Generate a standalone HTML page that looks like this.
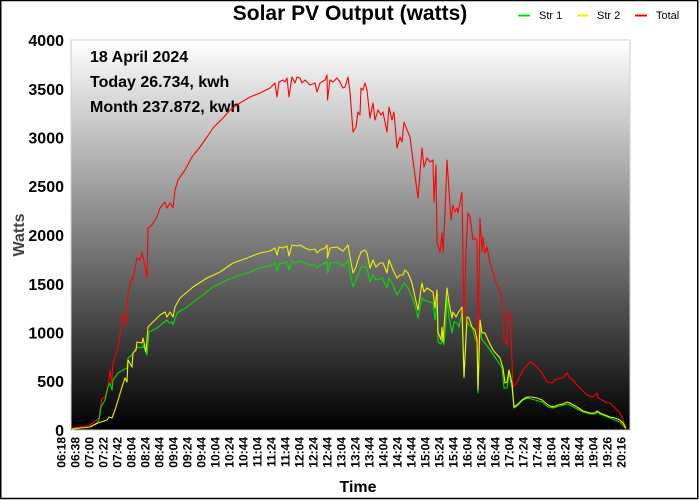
<!DOCTYPE html>
<html><head><meta charset="utf-8"><style>
html,body{margin:0;padding:0;background:#fff;}
svg{display:block;font-family:"Liberation Sans",Arial,sans-serif;}
</style></head><body>
<svg width="700" height="500" viewBox="0 0 700 500" xmlns="http://www.w3.org/2000/svg">
<defs>
<linearGradient id="bg" x1="0" y1="0" x2="0" y2="1">
<stop offset="0" stop-color="#ffffff"/>
<stop offset="1" stop-color="#000000"/>
</linearGradient>
</defs>
<rect x="0" y="0" width="700" height="500" fill="#fff"/>
<rect x="0.75" y="0.5" width="697" height="498" fill="none" stroke="#000" stroke-width="1.5"/>
<rect x="71" y="40" width="559" height="390" fill="url(#bg)" stroke="#d0d0d0" stroke-width="1"/>

<text x="350" y="20" font-size="21" font-weight="bold" text-anchor="middle">Solar PV Output (watts)</text>

<line x1="518" y1="15.5" x2="530" y2="15.5" stroke="#00e000" stroke-width="2"/>
<text x="539" y="19" font-size="11">Str 1</text>
<line x1="577" y1="15.5" x2="588" y2="15.5" stroke="#f0f000" stroke-width="2"/>
<text x="597" y="19" font-size="11">Str 2</text>
<line x1="635" y1="15.5" x2="647" y2="15.5" stroke="#ff0000" stroke-width="2"/>
<text x="656" y="19" font-size="11">Total</text>

<g font-size="16" font-weight="bold" text-anchor="end">
<text x="64" y="46">4000</text>
<text x="64" y="95">3500</text>
<text x="64" y="143.5">3000</text>
<text x="64" y="192">2500</text>
<text x="64" y="241">2000</text>
<text x="64" y="290">1500</text>
<text x="64" y="338.5">1000</text>
<text x="64" y="387">500</text>
<text x="64" y="436">0</text>
</g>

<text transform="translate(24,235) rotate(-90)" font-size="16" font-weight="bold" fill="#444" text-anchor="middle">Watts</text>
<text x="358" y="492" font-size="16" font-weight="bold" text-anchor="middle">Time</text>

<g font-size="16" font-weight="bold">
<text x="90" y="62">18 April 2024</text>
<text x="90" y="87">Today 26.734, kwh</text>
<text x="90" y="112">Month 237.872, kwh</text>
</g>

<g font-size="12" font-weight="bold" text-anchor="end">
<text transform="translate(65.5,437) rotate(-90)">06:18</text>
<text transform="translate(79.5,437) rotate(-90)">06:38</text>
<text transform="translate(93.5,437) rotate(-90)">07:00</text>
<text transform="translate(107.5,437) rotate(-90)">07:22</text>
<text transform="translate(121.5,437) rotate(-90)">07:42</text>
<text transform="translate(135.5,437) rotate(-90)">08:04</text>
<text transform="translate(149.5,437) rotate(-90)">08:24</text>
<text transform="translate(163.5,437) rotate(-90)">08:44</text>
<text transform="translate(177.5,437) rotate(-90)">09:04</text>
<text transform="translate(191.5,437) rotate(-90)">09:24</text>
<text transform="translate(205.5,437) rotate(-90)">09:44</text>
<text transform="translate(219.5,437) rotate(-90)">10:04</text>
<text transform="translate(233.5,437) rotate(-90)">10:24</text>
<text transform="translate(247.5,437) rotate(-90)">10:44</text>
<text transform="translate(261.5,437) rotate(-90)">11:04</text>
<text transform="translate(275.5,437) rotate(-90)">11:24</text>
<text transform="translate(289.5,437) rotate(-90)">11:44</text>
<text transform="translate(303.5,437) rotate(-90)">12:04</text>
<text transform="translate(317.5,437) rotate(-90)">12:24</text>
<text transform="translate(331.5,437) rotate(-90)">12:44</text>
<text transform="translate(345.5,437) rotate(-90)">13:04</text>
<text transform="translate(359.5,437) rotate(-90)">13:24</text>
<text transform="translate(373.5,437) rotate(-90)">13:44</text>
<text transform="translate(387.5,437) rotate(-90)">14:04</text>
<text transform="translate(401.5,437) rotate(-90)">14:24</text>
<text transform="translate(415.5,437) rotate(-90)">14:44</text>
<text transform="translate(429.5,437) rotate(-90)">15:04</text>
<text transform="translate(443.5,437) rotate(-90)">15:24</text>
<text transform="translate(457.5,437) rotate(-90)">15:44</text>
<text transform="translate(471.5,437) rotate(-90)">16:04</text>
<text transform="translate(485.5,437) rotate(-90)">16:24</text>
<text transform="translate(499.5,437) rotate(-90)">16:44</text>
<text transform="translate(513.5,437) rotate(-90)">17:04</text>
<text transform="translate(527.5,437) rotate(-90)">17:24</text>
<text transform="translate(541.5,437) rotate(-90)">17:44</text>
<text transform="translate(555.5,437) rotate(-90)">18:04</text>
<text transform="translate(569.5,437) rotate(-90)">18:24</text>
<text transform="translate(583.5,437) rotate(-90)">18:44</text>
<text transform="translate(597.5,437) rotate(-90)">19:04</text>
<text transform="translate(611.5,437) rotate(-90)">19:26</text>
<text transform="translate(625.5,437) rotate(-90)">20:16</text>
</g>

<g fill="none" stroke-width="1.1" stroke-linejoin="round">
<polyline stroke="#ff0000" points="71.7,428 80,427 90,425 96.7,420 99,418 101.7,399 105,397 108,387 110,370 111.7,383 113,363 118,347 123,313 126,325 128,293 132,277 133,280 137,258 140,260 142,252 145,267 147,278 148,228 152,225 157,217 160,208 165,202 167,208 170,203 173,208 175,190 178,180 185,170 192,157 200,147 207,137 213,128 223,118 230,110 240,103 250,97 260,93 270,88 275,83 277,97 279,82 283,80 285,82 287,78 289,97 292,77 295,83 297,77 300,78 302,83 305,80 310,85 315,83 317,92 320,83 325,80 327,75 327.5,100 330,80 333,82 337,78 340,82 343,88 345,87 348,77 350,92 353,132 356,127 358,112 360,115 361,88 363,90 365,83 367,90 370,118 373,103 375,120 378,110 381,115 383,112 387,132 389,107 392,120 394,112 397,148 400,137 402,142 404,122 407,130 410,137 414,168 418,198 422,148 424,167 427,158 430,162 433,160 434,202 436,165 437,242 440,252 442,233 443,253 445,212 447,160 449,190 451,220 453,205 455,212 457,208 458,213 462,192 464,323 466,250 468,213 470,217 473,240 475,238 477,240 478,353 480,218 482,252 483,237 485,253 487,247 490,263 497,285 500,292 502,300 504,340 507,345 508,313 510,312 513,387 515,385 518,380 523,370 530,362 535,365 542,373 547,382 552,383 555,380 560,378 563,378 567,373 570,378 573,380 577,385 582,390 587,395 593,397 597,393 598,398 602,400 607,403 610,403 615,408 620,413 623,420 626,428"/>
<polyline stroke="#00e000" points="72,429 90,427 97,423 99,420 101,407 105,400 108,387 110,383 112,390 113,380 118,373 123,370 127,368 128,358 132,355 134,352 137,347 142,348 143,345 147,355 149,332 157,328 163,323 167,320 169,323 172,322 173,325 177,313 187,307 200,297 213,287 227,280 240,275 250,272 260,268 270,266 275,263 277,271 279,264 283,263 287,262 289,270 292,261 295,263 300,261 305,263 310,265 315,265 317,268 320,265 325,263 327,261 327.5,273 330,263 337,262 343,266 348,260 350,273 353,287 356,280 358,275 361,267 365,267 367,268 370,282 373,275 376,280 382,278 387,288 389,278 393,285 397,295 400,290 404,283 408,288 412,297 415,305 418,318 422,298 424,300 430,302 433,303 435,320 437,303 438,342 441,344 443,338 444,345 446,320 447,298 449,317 452,333 454,322 457,323 459,327 462,313 464,378 467,322 469,325 472,327 475,338 477,342 478,393 480,328 482,340 485,343 490,350 497,360 502,368 504,388 507,388 509,373 512,388 514,408 518,405 523,400 528,398 535,400 542,402 548,407 553,408 560,406 567,404 570,405 577,409 583,412 590,414 595,414 597,412 600,414 610,418 620,422 626,429"/>
<polyline stroke="#f0f000" points="72,429 90,427 98,423 107,420 109,417 112,418 115,410 119,397 122,387 125,378 127,382 128,360 132,367 133,353 136,350 137,342 142,343 143,338 146,352 148,327 153,322 160,315 165,312 167,317 170,312 173,317 175,307 180,298 193,287 207,278 220,272 233,263 247,258 260,253 270,251 275,248 277,255 279,247 283,248 287,246 289,256 292,245 297,246 300,245 305,248 310,250 315,249 317,253 320,250 325,248 327,245 327.5,258 330,248 337,247 343,251 348,245 350,257 353,273 356,267 358,260 361,252 365,250 367,253 370,268 373,260 376,267 380,263 383,263 387,273 389,260 393,270 397,278 400,275 403,275 405,270 408,273 412,283 415,297 418,310 422,283 424,292 427,288 430,290 433,292 435,308 437,290 438,332 441,340 442,327 443,342 445,313 447,288 449,303 452,318 453,312 456,317 458,313 462,307 464,377 467,317 469,318 472,327 475,330 477,340 478,390 480,320 482,333 485,333 488,340 493,350 500,358 503,368 505,383 507,382 509,370 512,383 514,407 517,405 522,400 527,397 532,397 537,398 542,400 548,405 553,407 558,405 563,404 567,402 570,403 577,407 583,411 590,413 595,413 597,411 600,413 605,415 610,417 615,418 620,420 623,423 626,428"/>
</g>
</svg>
</body></html>
